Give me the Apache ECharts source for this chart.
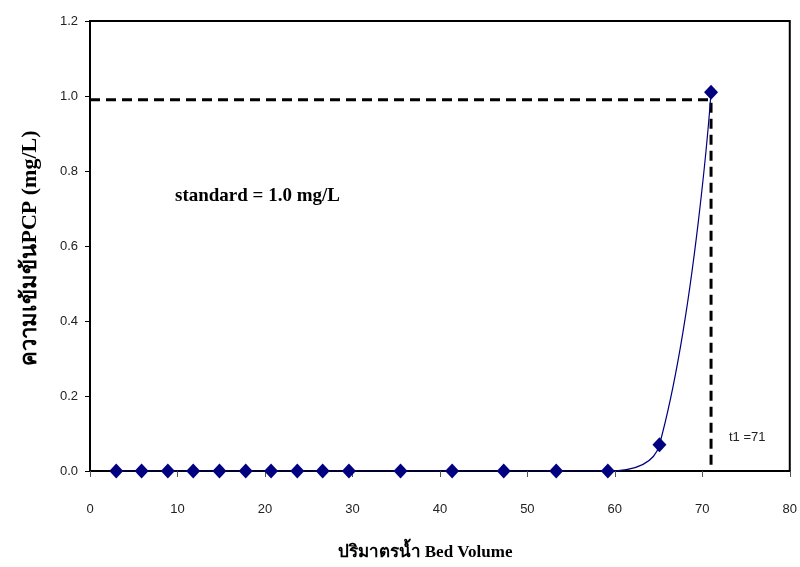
<!DOCTYPE html>
<html style="height: 100%">
<head>
  <meta charset="utf-8">
  <title>PCP breakthrough</title>
</head>
<body style="height: 100%; margin: 0; background: #fff">
<div id="container" style="width: 800px; height: 567px"></div>
<script src="https://cdn.jsdelivr.net/npm/echarts@6/dist/echarts.min.js"></script>
<script>
  // bed volume vs PCP concentration (mg/L)
  var bedVolume = [3.0, 5.9, 8.9, 11.8, 14.8, 17.8, 20.7, 23.7, 26.6, 29.6, 35.5, 41.4, 47.3, 53.3, 59.2, 65.1, 71.0];
  var pcpConc = [0, 0, 0, 0, 0, 0, 0, 0, 0, 0, 0, 0, 0, 0, 0, 0.07, 1.01];
  // standard guide: 1.0 mg/L reached at t1 = 71
  var guideX = [0, 71, 71];
  var guideY = [0.99, 0.99, 0];
  var yTicks = ['0.0', '0.2', '0.4', '0.6', '0.8', '1.0', '1.2'];

  var dom = document.getElementById('container');
  var myChart = echarts.init(dom);

  var serif = '"Liberation Serif", "Times New Roman", serif';
  var sans = '"Liberation Sans", Arial, sans-serif';

  var option = {
    animation: false,
    grid: {
      left: 90, right: 9, top: 21, bottom: 96,
      show: true,
      borderColor: '#000',
      borderWidth: 2
    },
    xAxis: {
      type: 'value',
      min: 0, max: 80, interval: 10,
      axisLine: { show: true, onZero: false, lineStyle: { color: '#000', width: 2 } },
      axisTick: { show: true, length: 6, lineStyle: { color: '#555' } },
      axisLabel: { margin: 32, color: '#222', fontFamily: sans, fontSize: 13 },
      splitLine: { show: false }
    },
    yAxis: {
      type: 'value',
      min: 0, max: 1.2, interval: 0.2,
      axisLine: { show: true, lineStyle: { color: '#000', width: 2 } },
      axisTick: { show: true, length: 5, lineStyle: { color: '#000' } },
      axisLabel: {
        margin: 12, color: '#222', fontFamily: sans, fontSize: 13,
        formatter: function (v) { return yTicks[Math.round(v / 0.2)]; }
      },
      splitLine: { show: false }
    },
    graphic: [
      {
        type: 'text', left: 175, top: 187,
        style: { text: 'standard = 1.0 mg/L', font: 'bold 19px ' + serif, fill: '#000' }
      },
      {
        type: 'text', left: 729, top: 431,
        style: { text: 't1 =71', font: '13px ' + sans, fill: '#222' }
      },
      {
        type: 'text', x: 425, y: 553,
        style: {
          text: 'ปริมาตรน้ำ Bed Volume', font: 'bold 17px ' + serif, fill: '#000',
          textAlign: 'center', textVerticalAlign: 'middle'
        }
      },
      {
        type: 'text', x: 30, y: 248, rotation: Math.PI / 2,
        style: {
          text: 'ความเข้มข้นPCP (mg/L)', font: 'bold 22px ' + serif, fill: '#000',
          textAlign: 'center', textVerticalAlign: 'middle'
        }
      }
    ],
    series: [
      {
        type: 'line',
        data: guideX.map(function (x, i) { return [x, guideY[i]]; }),
        symbol: 'none',
        lineStyle: { color: '#000', width: 3, type: [10, 6] },
        z: 1
      },
      {
        type: 'line',
        data: bedVolume.map(function (x, i) { return [x, pcpConc[i]]; }),
        smooth: 0.4,
        symbol: 'diamond',
        symbolSize: [14, 15],
        itemStyle: { color: '#000080' },
        lineStyle: { color: '#000080', width: 1.2 },
        z: 3
      }
    ]
  };

  myChart.setOption(option);
</script>
</body>
</html>
